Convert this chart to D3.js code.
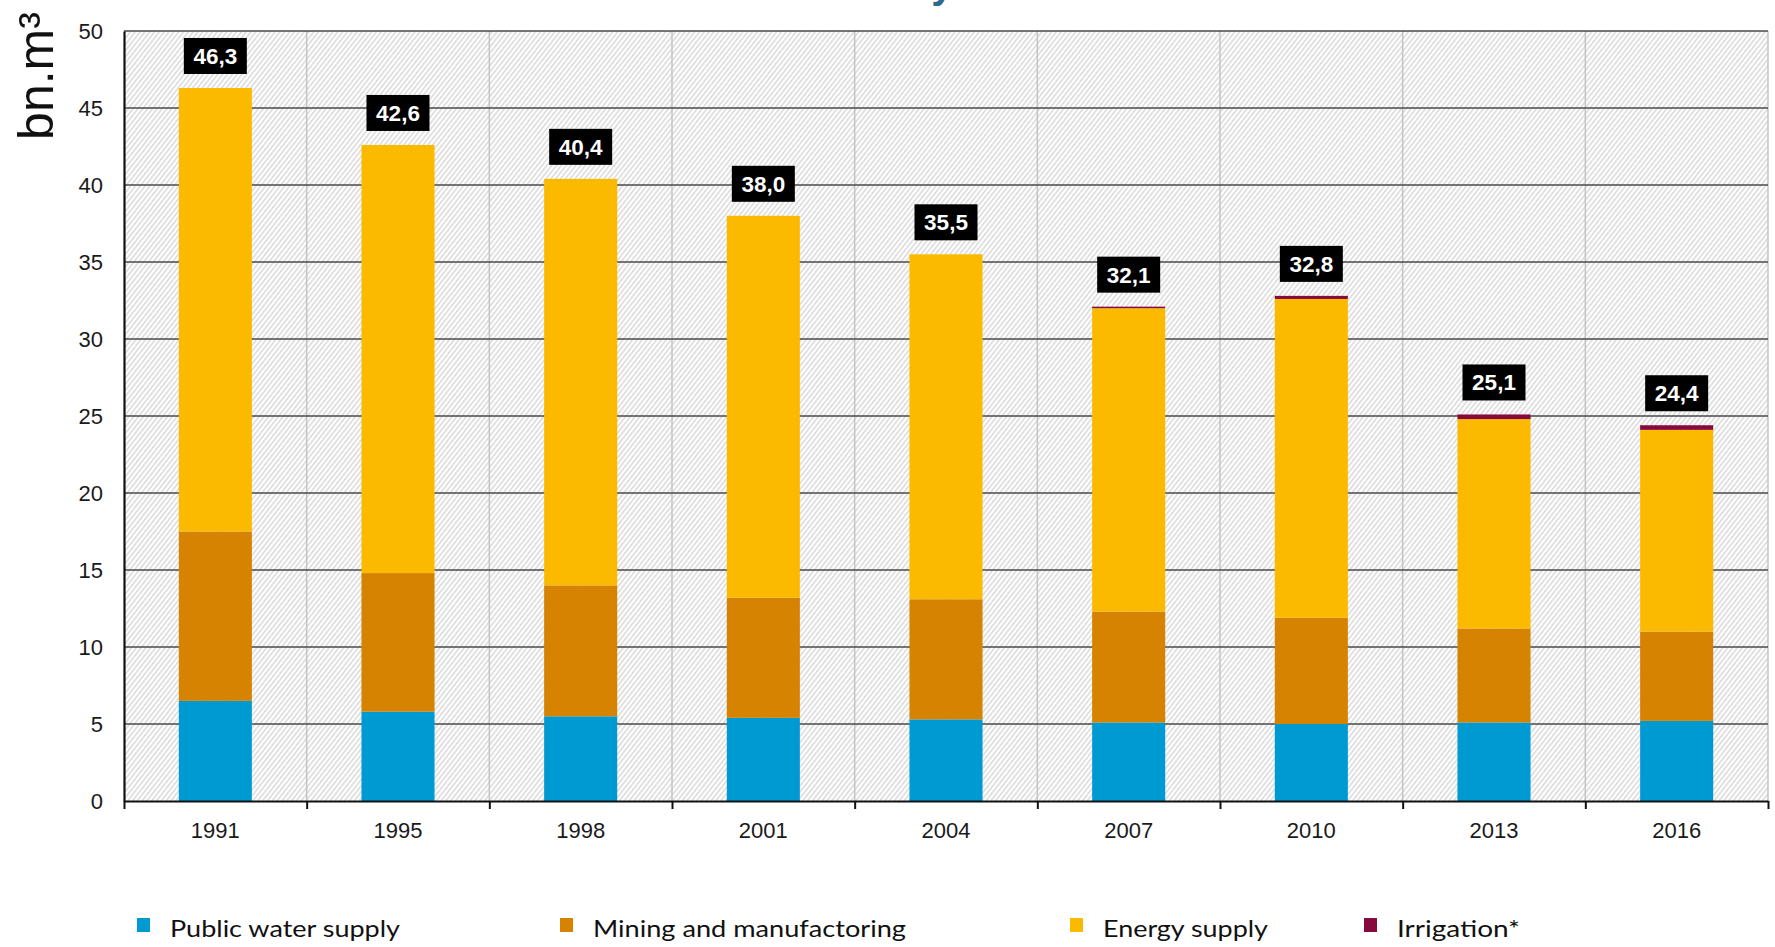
<!DOCTYPE html>
<html>
<head>
<meta charset="utf-8">
<script src="https://cdn.jsdelivr.net/npm/d3@7/dist/d3.min.js"></script>
<style>
  html, body { margin: 0; padding: 0; background: #ffffff; }
  svg { display: block; }
</style>
</head>
<body>
<svg id="chart" width="1775" height="947"></svg>
<script>
// Water abstraction by sector, bn. m³
const years       = ["1991", "1995", "1998", "2001", "2004", "2007", "2010", "2013", "2016"];
const publicWater = [6.5, 5.8, 5.5, 5.4, 5.3, 5.1, 5.0, 5.1, 5.2];
const mining      = [11.0, 9.0, 8.5, 7.8, 7.8, 7.2, 6.9, 6.1, 5.8];
const energy      = [28.8, 27.8, 26.4, 24.8, 22.4, 19.7, 20.7, 13.6, 13.1];
const irrigation  = [0, 0, 0, 0, 0, 0.1, 0.2, 0.3, 0.3];
const seriesNames = ["Public water supply", "Mining and manufactoring", "Energy supply", "Irrigation*"];
const yTicks      = [0, 5, 10, 15, 20, 25, 30, 35, 40, 45, 50];

const seriesKeys   = ["public", "mining", "energy", "irrigation"];
const seriesColors = ["#009AD3", "#D58300", "#FBBA00", "#870A3C"];

// Legend layout (left edge of each swatch, stretched text width)
const legendX     = [137, 560, 1070, 1364];
const legendWidth = [230, 313, 165, 123];

const plot = { left: 124, right: 1768, top: 31, bottom: 801 };

const rows = years.map((yr, i) => ({
  year: yr,
  public: publicWater[i],
  mining: mining[i],
  energy: energy[i],
  irrigation: irrigation[i]
}));

const svg = d3.select("#chart");

// Scales
const x = d3.scaleBand()
  .domain(years)
  .range([plot.left, plot.right])
  .paddingInner(0.6)
  .paddingOuter(0.3);

const xEdge = d3.scaleLinear()
  .domain([0, years.length])
  .range([plot.left, plot.right]);

const y = d3.scaleLinear()
  .domain([0, 50])
  .range([plot.bottom, plot.top]);

const color = d3.scaleOrdinal().domain(seriesKeys).range(seriesColors);

// Diagonal hatch background
const defs = svg.append("defs");
const pat = defs.append("pattern")
  .attr("id", "hatch")
  .attr("patternUnits", "userSpaceOnUse")
  .attr("width", 3.8)
  .attr("height", 10)
  .attr("patternTransform", "rotate(38)");
pat.append("rect").attr("width", 3.8).attr("height", 10).attr("fill", "#ffffff");
pat.append("line")
  .attr("x1", 0.8).attr("y1", 0).attr("x2", 0.8).attr("y2", 10)
  .attr("stroke", "#d0d0d0").attr("stroke-width", 1.2);

svg.append("rect")
  .attr("x", plot.left).attr("y", plot.top)
  .attr("width", plot.right - plot.left)
  .attr("height", plot.bottom - plot.top)
  .attr("fill", "url(#hatch)");

// Title (runs above the top edge)
svg.append("text")
  .attr("x", 932)
  .attr("y", -2)
  .attr("text-anchor", "middle")
  .attr("font-family", "Liberation Sans, Arial, sans-serif")
  .attr("font-weight", "bold")
  .attr("font-size", 40)
  .attr("fill", "#2F6B8E")
  .text("Water abstraction by economic sectors");

// Vertical category gridlines
svg.append("g")
  .selectAll("line")
  .data(d3.range(1, years.length + 1))
  .join("line")
  .attr("x1", d => xEdge(d)).attr("x2", d => xEdge(d))
  .attr("y1", plot.top).attr("y2", plot.bottom)
  .attr("stroke", "#c4c4c4")
  .attr("stroke-width", 1.5);

// Horizontal gridlines
svg.append("g")
  .selectAll("line")
  .data(yTicks.filter(v => v > 0))
  .join("line")
  .attr("x1", plot.left).attr("x2", plot.right)
  .attr("y1", d => y(d)).attr("y2", d => y(d))
  .attr("stroke", "#4a4a4a")
  .attr("stroke-width", 1.6);

// Stacked bars
const stacked = d3.stack().keys(seriesKeys)(rows);
svg.append("g")
  .selectAll("g")
  .data(stacked)
  .join("g")
  .attr("fill", d => color(d.key))
  .selectAll("rect")
  .data(d => d)
  .join("rect")
  .attr("x", d => x(d.data.year))
  .attr("width", x.bandwidth())
  .attr("y", d => y(d[1]))
  .attr("height", d => Math.max(0, y(d[0]) - y(d[1])));

// Y axis
const yAxis = svg.append("g")
  .attr("transform", `translate(${plot.left},0)`)
  .call(d3.axisLeft(y).tickValues(yTicks).tickSize(0).tickPadding(21));
yAxis.select(".domain").attr("stroke", "#111").attr("stroke-width", 2.2);
yAxis.selectAll("text")
  .attr("font-family", "Liberation Sans, Arial, sans-serif")
  .attr("font-size", 22)
  .attr("fill", "#1a1a1a");

// X axis: ticks at category edges, labels centred on bars
const xTicks = svg.append("g")
  .attr("transform", `translate(0,${plot.bottom})`)
  .call(d3.axisBottom(xEdge).tickValues(d3.range(0, years.length + 1)).tickFormat("").tickSize(8).tickSizeOuter(0));
xTicks.select(".domain").attr("stroke", "#111").attr("stroke-width", 2.2);
xTicks.selectAll(".tick line").attr("stroke", "#111").attr("stroke-width", 2);

const xLabels = svg.append("g")
  .attr("transform", `translate(0,${plot.bottom})`)
  .call(d3.axisBottom(x).tickSize(0).tickPadding(21));
xLabels.select(".domain").remove();
xLabels.selectAll("text")
  .attr("font-family", "Liberation Sans, Arial, sans-serif")
  .attr("font-size", 22)
  .attr("fill", "#1a1a1a");

// Y axis title
svg.append("text")
  .attr("transform", `translate(53,76) rotate(-90)`)
  .attr("text-anchor", "middle")
  .attr("font-family", "Liberation Sans, Arial, sans-serif")
  .attr("font-size", 50)
  .attr("fill", "#111")
  .text("bn.m³");

// Total labels in black boxes
const fmt = v => d3.format(".1f")(v).replace(".", ",");
const lab = svg.append("g").selectAll("g")
  .data(rows)
  .join("g")
  .attr("transform", d => {
    const total = d.public + d.mining + d.energy + d.irrigation;
    return `translate(${x(d.year) + x.bandwidth() / 2},${y(total) - 14})`;
  });
lab.append("rect")
  .attr("x", -31.5).attr("y", -36)
  .attr("width", 63).attr("height", 36)
  .attr("fill", "#000");
lab.append("text")
  .attr("x", 0).attr("y", -10)
  .attr("text-anchor", "middle")
  .attr("font-family", "Liberation Sans, Arial, sans-serif")
  .attr("font-weight", "bold")
  .attr("font-size", 22.5)
  .attr("fill", "#fff")
  .text(d => fmt(d.public + d.mining + d.energy + d.irrigation));

// Legend
const li = svg.append("g").selectAll("g")
  .data(seriesKeys)
  .join("g")
  .attr("transform", (d, i) => `translate(${legendX[i]},918)`);
li.append("rect")
  .attr("width", 13).attr("height", 14)
  .attr("fill", d => color(d));
li.append("text")
  .attr("x", 33).attr("y", 19)
  .attr("font-family", "Lato, 'Open Sans', sans-serif")
  .attr("font-size", 23)
  .attr("fill", "#111")
  .attr("textLength", (d, i) => legendWidth[i])
  .attr("lengthAdjust", "spacingAndGlyphs")
  .text((d, i) => seriesNames[i]);
</script>
</body>
</html>
